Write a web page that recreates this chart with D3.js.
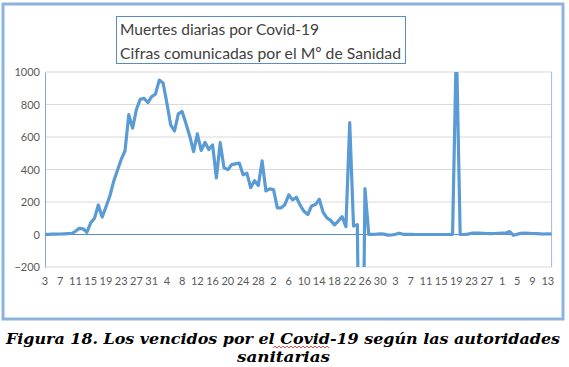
<!DOCTYPE html>
<html>
<head>
<meta charset="utf-8">
<script src="https://cdn.jsdelivr.net/npm/d3@7"></script>
<style>
  body { margin: 0; background: #fff; }
</style>
</head>
<body>
<div id="viz"></div>
<script>
// daily deaths, 3 Mar 2020 -> 14 Jul 2020
const marzo = [1, 1, 2, 2, 3, 4, 5, 6, 20, 38, 35, 14, 72, 100, 182, 107, 169, 235, 324, 394,
  462, 514, 738, 655, 769, 832, 838, 812, 849];
const abril = [864, 950, 932, 809, 674, 637, 743, 757, 683, 605, 510, 619, 517, 567, 523, 551,
  348, 565, 410, 399, 430, 435, 440, 367, 378, 288, 331, 301, 453, 268];
const mayo = [281, 276, 164, 164, 185, 244, 213, 229, 179, 143, 123, 176, 184, 217, 138, 102,
  87, 59, 83, 110, 48, 688, 52, 60, -1918, 283, 1, 1, 2, 4, 2];
const junio = [-4, -3, 1, 8, 1, 1, 1, 0, 0, 0, 0, 0, 0, 0, 0, 0, 0, 0, 1179, 0, 0, 2, 8, 9, 8,
  7, 6, 5, 6, 7];
const julio = [8, 9, 18, -5, 2, 7, 8, 7, 6, 5, 4, 3, 4, 3];

const yTicks = [-200, 0, 200, 400, 600, 800, 1000];
const titleLines = ["Muertes diarias por Covid-19", "Cifras comunicadas por el Mº de Sanidad"];
const caption1 = "Figura 18. Los vencidos por el Covid-19 según las autoridades";
const caption2 = "sanitarias";

const values = [].concat(marzo, abril, mayo, junio, julio);
const dates = d3.timeDay.range(new Date(2020, 2, 3), new Date(2020, 2, 3 + values.length));
const data = values.map((v, i) => ({date: dates[i], value: v}));

const W = 569, H = 367;
const plot = {left: 45, right: 551.6, top: 72, bottom: 267};

const svg = d3.select("#viz").append("svg")
  .attr("width", W)
  .attr("height", H);

// outer frame
svg.append("rect")
  .attr("x", 3).attr("y", 4)
  .attr("width", 560).attr("height", 315)
  .attr("fill", "#fff")
  .attr("stroke", "#8db3de")
  .attr("stroke-width", 3);

const x = d3.scaleLinear()
  .domain([0, values.length - 1])
  .range([plot.left, plot.right]);

const y = d3.scaleLinear()
  .domain([-200, 1000])
  .range([plot.bottom, plot.top]);

// gridlines
svg.append("g")
  .selectAll("line")
  .data(yTicks.filter(d => d !== 0))
  .join("line")
  .attr("x1", plot.left).attr("x2", plot.right)
  .attr("y1", d => y(d)).attr("y2", d => y(d))
  .attr("stroke", "#d9d9d9")
  .attr("stroke-width", 1);

// right border of plot area
svg.append("line")
  .attr("x1", plot.right).attr("x2", plot.right)
  .attr("y1", plot.top).attr("y2", plot.bottom)
  .attr("stroke", "#9dbbe0");

// y axis
const yAxis = svg.append("g")
  .attr("transform", "translate(" + plot.left + ",0)")
  .call(d3.axisLeft(y).tickValues(yTicks).tickFormat(d3.format("d")).tickSize(0).tickPadding(5));
yAxis.select(".domain").attr("stroke", "#86a8d2");
yAxis.selectAll("text")
  .attr("fill", "#595959")
  .style("font-family", "Lato, 'Open Sans', sans-serif")
  .style("font-size", "11px");

// zero line (category axis)
svg.append("line")
  .attr("x1", plot.left).attr("x2", plot.right)
  .attr("y1", y(0)).attr("y2", y(0))
  .attr("stroke", "#5b8bc4")
  .attr("stroke-width", 1);

// x labels, every 4 days
svg.append("g")
  .selectAll("text")
  .data(data.filter((d, i) => i % 4 === 0))
  .join("text")
  .attr("x", d => x(data.indexOf(d)))
  .attr("y", 285)
  .attr("text-anchor", "middle")
  .attr("fill", "#595959")
  .style("font-family", "Lato, 'Open Sans', sans-serif")
  .style("font-size", "11px")
  .text(d => d.date.getDate());

// clip to plot area
svg.append("clipPath").attr("id", "clip")
  .append("rect")
  .attr("x", plot.left).attr("y", plot.top)
  .attr("width", plot.right - plot.left + 2)
  .attr("height", plot.bottom - plot.top);

svg.append("path")
  .datum(data)
  .attr("clip-path", "url(#clip)")
  .attr("fill", "none")
  .attr("stroke", "#5b9bd5")
  .attr("stroke-width", 3.2)
  .attr("stroke-linejoin", "round")
  .attr("d", d3.line()
    .x((d, i) => x(i))
    .y(d => y(d.value)));

// title box
svg.append("rect")
  .attr("x", 116.5).attr("y", 16.5)
  .attr("width", 289).attr("height", 47)
  .attr("fill", "#fff")
  .attr("stroke", "#5b8bc4")
  .attr("stroke-width", 1);

svg.append("g")
  .selectAll("text")
  .data(titleLines)
  .join("text")
  .attr("x", 120)
  .attr("y", (d, i) => 35 + i * 24)
  .attr("fill", "#404040")
  .attr("textLength", (d, i) => i === 0 ? 199 : 281)
  .attr("lengthAdjust", "spacingAndGlyphs")
  .style("font-family", "Lato, 'Open Sans', sans-serif")
  .style("font-size", "16px")
  .text(d => d);

// caption
const capFont = sel => sel
  .style("font-family", "'DejaVu Serif', serif")
  .style("font-weight", "bold")
  .style("font-style", "italic")
  .style("font-size", "15.5px");

svg.append("text")
  .attr("x", 6).attr("y", 344)
  .attr("textLength", 554)
  .attr("lengthAdjust", "spacingAndGlyphs")
  .call(capFont)
  .text(caption1);

svg.append("text")
  .attr("x", 237).attr("y", 362)
  .attr("textLength", 93)
  .attr("lengthAdjust", "spacingAndGlyphs")
  .call(capFont)
  .text(caption2);

// spell-check squiggle under "Covid"
const wave = d3.range(273, 331, 2).map((px, i) => [px, 347 + (i % 2 ? -1 : 1)]);
svg.append("path")
  .attr("d", d3.line()(wave))
  .attr("fill", "none")
  .attr("stroke", "#e02020")
  .attr("stroke-width", 0.8);
</script>
</body>
</html>
